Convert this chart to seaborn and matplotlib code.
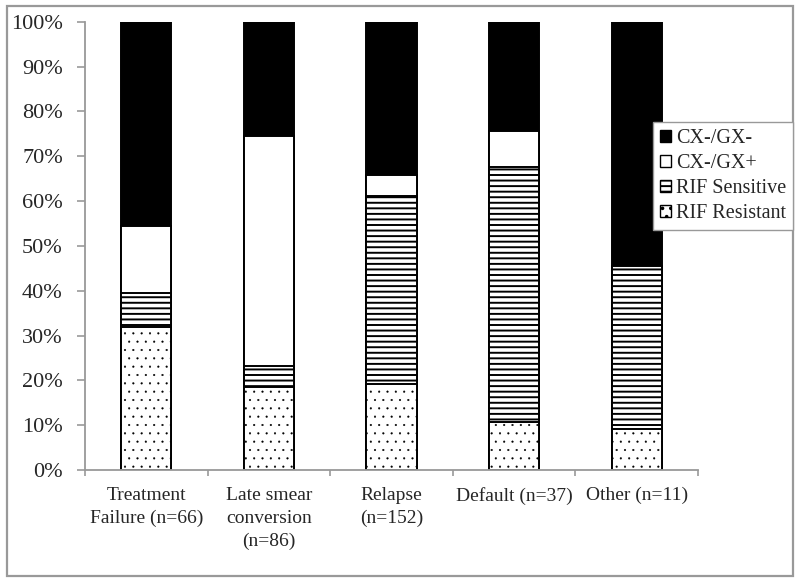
import matplotlib
matplotlib.use("Agg")
import matplotlib.pyplot as plt
from matplotlib.patches import Patch, Rectangle
from matplotlib.ticker import PercentFormatter
import seaborn as sns
import pandas as pd

# categories (x axis)
groups = ['Treatment\nFailure (n=66)', 'Late smear\nconversion\n(n=86)',
          'Relapse\n(n=152)', 'Default (n=37)', 'Other (n=11)']

# percent of each group
rif_resistant = [31.8, 18.6, 19.1, 10.8, 9.1]
rif_sensitive = [7.6, 4.7, 42.1, 56.8, 36.4]
cx_gx_pos = [15.1, 51.1, 4.6, 8.1, 0.0]
cx_gx_neg = [45.5, 25.6, 34.2, 24.3, 54.5]

sns.set_theme(style='white')
plt.rcParams['font.family'] = ['Liberation Serif', 'DejaVu Serif']
plt.rcParams['hatch.linewidth'] = 1.4

df = pd.DataFrame({'group': groups,
                   'res': rif_resistant,
                   'sens': rif_sensitive,
                   'pos': cx_gx_pos,
                   'neg': cx_gx_neg})
# cumulative tops, drawn tallest first so each layer covers the one below
df['top_res'] = df['res']
df['top_sens'] = df['top_res'] + df['sens']
df['top_pos'] = df['top_sens'] + df['pos']
df['top_neg'] = df['top_pos'] + df['neg']

fig = plt.figure(figsize=(8, 5.84), dpi=100)
ax = fig.add_axes([0.10625, 0.1952, 0.76625, 0.7676])

layers = [('top_neg', 'black', '', None),
          ('top_pos', 'white', '', None),
          ('top_sens', 'white', '---', 1.4),
          ('top_res', 'white', '..', 0.3)]
for col, fc, hatch, hlw in layers:
    n_before = len(ax.patches)
    sns.barplot(data=df, x='group', y=col, color=fc, width=0.41,
                edgecolor='black', linewidth=1.4, hatch=hatch, ax=ax,
                saturation=1)
    if hlw is not None:
        for p in ax.patches[n_before:]:
            if hasattr(p, 'set_hatch_linewidth'):
                p.set_hatch_linewidth(hlw)

ax.set_ylim(0, 100)
ax.set_xlim(-0.5, 4.5)
ax.yaxis.set_major_locator(plt.MultipleLocator(10))
ax.yaxis.set_major_formatter(PercentFormatter(decimals=0))
ax.set_xlabel('')
ax.set_ylabel('')
ax.tick_params(axis='y', labelsize=16, length=6, width=1.2, color='#999999',
               left=True, direction='out', pad=10)
ax.set_xticks(range(len(groups)))
ax.set_xticklabels(groups, linespacing=1.45)
ax.tick_params(axis='x', labelsize=14, length=0, pad=12)
ax.set_xticks([i + 0.5 for i in range(-1, len(groups))], minor=True)
ax.tick_params(axis='x', which='minor', bottom=True, length=4.5, width=1.2,
               color='#999999', direction='out')

for side in ['top', 'right']:
    ax.spines[side].set_visible(False)
for side in ['left', 'bottom']:
    ax.spines[side].set_color('#999999')
    ax.spines[side].set_linewidth(1.3)

handles = [Patch(facecolor='black', edgecolor='black', label='CX-/GX-'),
           Patch(facecolor='white', edgecolor='black', label='CX-/GX+'),
           Patch(facecolor='white', edgecolor='black', hatch='---', label='RIF Sensitive'),
           Patch(facecolor='white', edgecolor='black', hatch='..', label='RIF Resistant')]
leg = fig.legend(handles=handles, loc='upper left', bbox_to_anchor=(0.816, 0.791),
                 fontsize=14.5, frameon=True, fancybox=False, handlelength=0.55,
                 handleheight=0.55, handletextpad=0.25, borderpad=0.35,
                 labelspacing=0.3, borderaxespad=0, framealpha=1)
leg.get_frame().set_edgecolor('#999999')
leg.get_frame().set_linewidth(1.0)

# gray border round the whole chart area
fig.patches.append(Rectangle((7 / 800, 8 / 584), 786 / 800, 570 / 584,
                             transform=fig.transFigure, fill=False,
                             edgecolor='#999999', linewidth=1.6))

fig.savefig('out.png', dpi=100)
